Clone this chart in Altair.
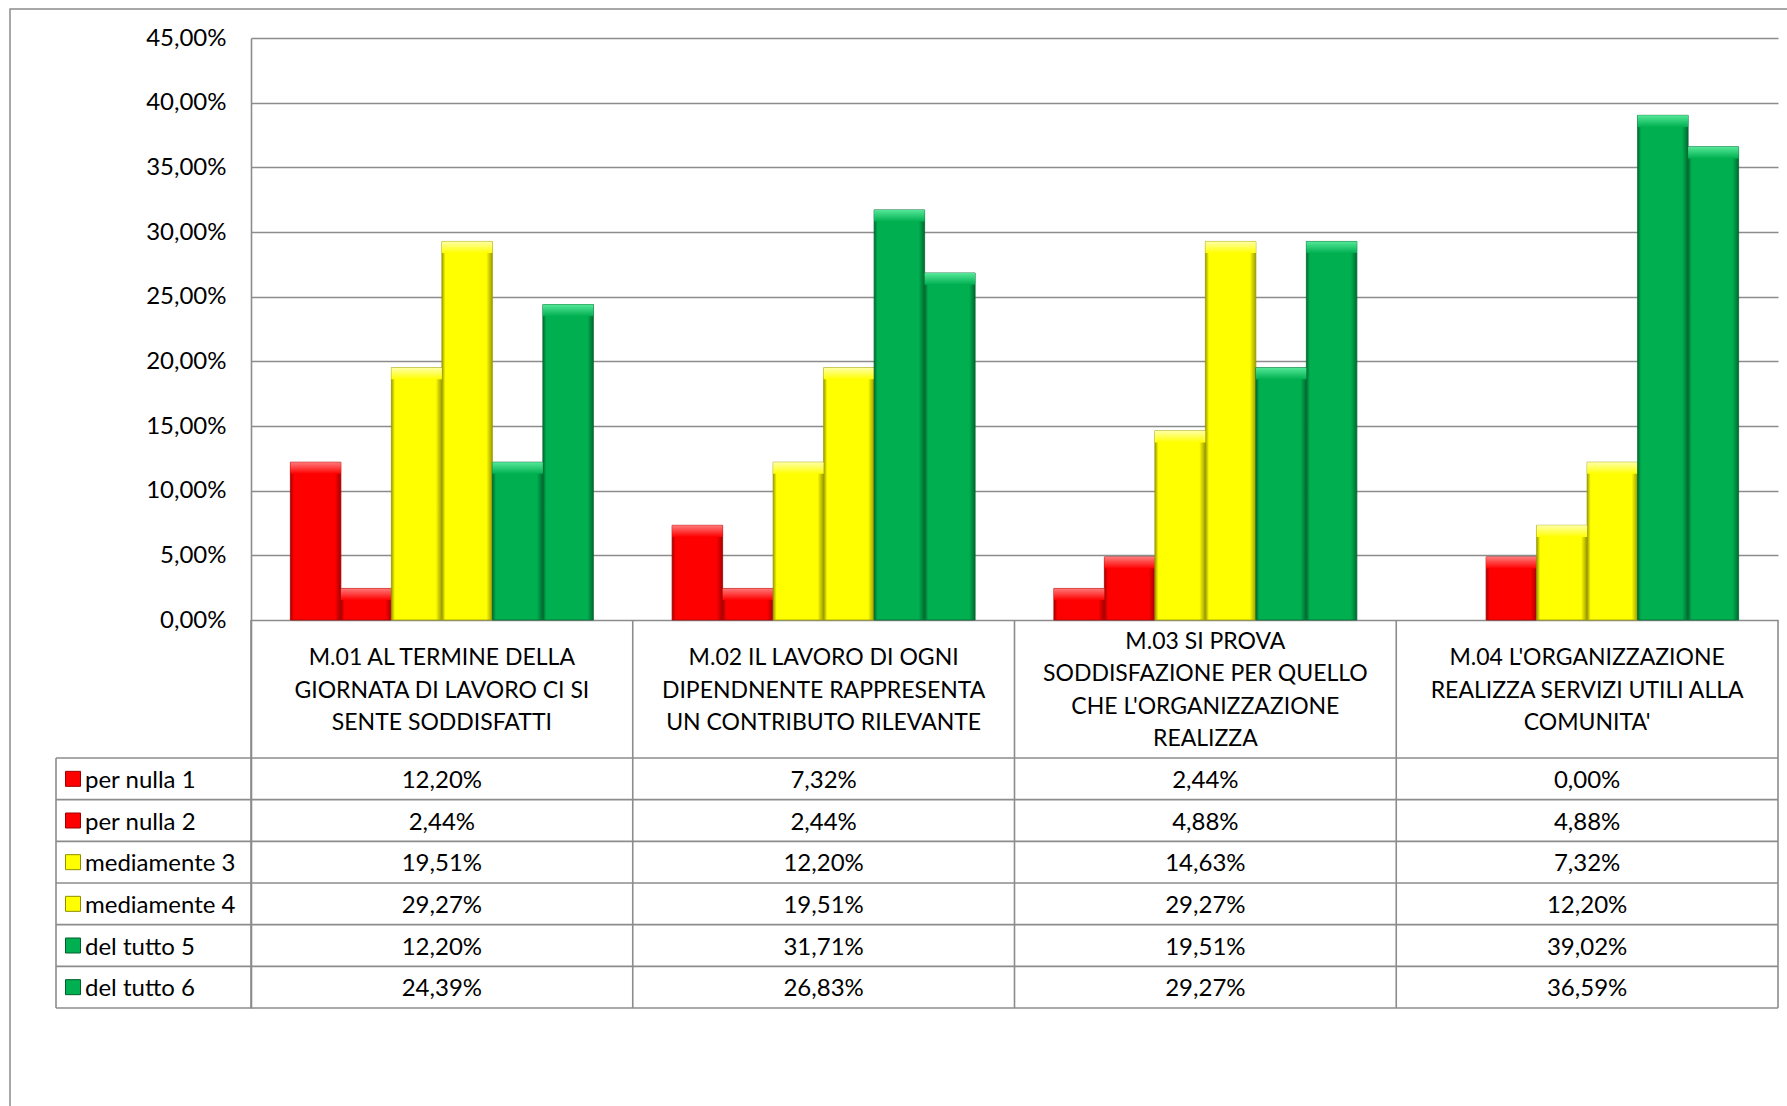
import altair as alt
import pandas as pd

# Questions (column headers of the data table); "\n" marks the line breaks
categories = [
    "M.01 AL TERMINE DELLA\nGIORNATA DI LAVORO CI SI\nSENTE SODDISFATTI",
    "M.02 IL LAVORO DI OGNI\nDIPENDNENTE RAPPRESENTA\nUN CONTRIBUTO RILEVANTE",
    "M.03 SI PROVA\nSODDISFAZIONE PER QUELLO\nCHE L'ORGANIZZAZIONE\nREALIZZA",
    "M.04 L'ORGANIZZAZIONE\nREALIZZA SERVIZI UTILI ALLA\nCOMUNITA'",
]

# Answer levels (rows of the data table)
series = ["per nulla 1", "per nulla 2", "mediamente 3", "mediamente 4", "del tutto 5", "del tutto 6"]

# Percentages per answer level, one value per question
per_nulla_1 = [12.20, 7.32, 2.44, 0.00]
per_nulla_2 = [2.44, 2.44, 4.88, 4.88]
mediamente_3 = [19.51, 12.20, 14.63, 7.32]
mediamente_4 = [29.27, 19.51, 29.27, 12.20]
del_tutto_5 = [12.20, 31.71, 19.51, 39.02]
del_tutto_6 = [24.39, 26.83, 29.27, 36.59]

y_ticks = [0, 5, 10, 15, 20, 25, 30, 35, 40, 45]

series_values = [per_nulla_1, per_nulla_2, mediamente_3, mediamente_4, del_tutto_5, del_tutto_6]
df = pd.DataFrame(
    [
        {"category": c, "series": s, "value": v}
        for s, vals in zip(series, series_values)
        for c, v in zip(categories, vals)
    ]
)
cat_df = pd.DataFrame({"category": categories})
ser_df = pd.DataFrame({"series": series})
one_df = pd.DataFrame({"k": [0]})

# Colour families: (series in the family, base, dark edge, light bevel)
families = [
    (series[0:2], "#FF0000", "#A80000", "#FF7A7A"),
    (series[2:4], "#FFFF00", "#9C9C00", "#FFFFA8"),
    (series[4:6], "#00B050", "#006A30", "#55E899"),
]
fill_colors = ["#FF0000", "#FF0000", "#FFFF00", "#FFFF00", "#00B050", "#00B050"]
edge_colors = ["#9E0000", "#9E0000", "#8F8F00", "#8F8F00", "#005E2A", "#005E2A"]
LINE = "#8C8C8C"

# Layout (pixels)
PLOT_W = 1527
PLOT_H = 970
Y_MIN, Y_MAX = -30.0, 45.0
PX_PER_UNIT = PLOT_H / (Y_MAX - Y_MIN)
ZERO_PX = (Y_MAX - 0) * PX_PER_UNIT
HEADER_H = 138
TABLE_TOP = ZERO_PX + HEADER_H
LABEL_COL = 195
FONT_SIZE = 24
HEADER_FONT = 23
HEADER_LINE_H = 32.5
BEVEL_UNITS = 0.9

pct_expr = "replace(format({v}, '.2f'), '.', ',') + '%'"

x_scale = alt.Scale(domain=categories, paddingInner=0, paddingOuter=0)
x_enc = alt.X("category:N", sort=categories, axis=None, scale=x_scale)
xoff_enc = alt.XOffset(
    "series:N", sort=series,
    scale=alt.Scale(domain=series, paddingInner=0, paddingOuter=0.78),
)
y_scale = alt.Scale(domain=[Y_MIN, Y_MAX], nice=False, zero=False)
table_y = alt.Scale(domain=series, range=[TABLE_TOP, PLOT_H], paddingInner=0, paddingOuter=0)

bar_data = alt.Chart(df).transform_filter("datum.value > 0")

# faint drop shadow to the right of each bar
shadow = bar_data.mark_bar(color="#000000", opacity=0.08, xOffset=4).encode(
    x=x_enc, xOffset=xoff_enc,
    y=alt.Y("value:Q", scale=y_scale, axis=None),
    y2=alt.datum(0),
)

# value axis with gridlines (carried by an invisible bar layer)
axis_layer = bar_data.mark_bar(opacity=0).encode(
    x=x_enc,
    xOffset=xoff_enc,
    y=alt.Y(
        "value:Q",
        scale=y_scale,
        axis=alt.Axis(
            values=y_ticks, title=None, ticks=False, grid=True,
            gridColor=LINE, gridWidth=1.6, domainColor=LINE, domainWidth=1.6,
            labelFontSize=FONT_SIZE, labelColor="#000000", labelPadding=25,
            labelExpr=pct_expr.format(v="datum.value"),
        ),
    ),
    y2=alt.datum(0),
)

bar_layers = []
for members, base, dark, light in families:
    fam = bar_data.transform_filter(alt.FieldOneOfPredicate(field="series", oneOf=members))
    body = fam.mark_bar(
        stroke=dark, strokeWidth=0.8,
        color=alt.Gradient(
            gradient="linear", x1=0, x2=1, y1=0, y2=0,
            stops=[
                alt.GradientStop(color=dark, offset=0),
                alt.GradientStop(color=base, offset=0.07),
                alt.GradientStop(color=base, offset=0.88),
                alt.GradientStop(color=dark, offset=1),
            ],
        ),
    ).encode(
        x=x_enc, xOffset=xoff_enc,
        y=alt.Y("value:Q", scale=y_scale, axis=None),
        y2=alt.datum(0),
    )
    top = fam.transform_calculate(bevel_low=f"datum.value - {BEVEL_UNITS}").mark_bar(
        color=alt.Gradient(
            gradient="linear", x1=0, x2=0, y1=0, y2=1,
            stops=[
                alt.GradientStop(color=light, offset=0),
                alt.GradientStop(color=base, offset=1),
            ],
        ),
    ).encode(
        x=x_enc, xOffset=xoff_enc,
        y=alt.Y("value:Q", scale=y_scale, axis=None),
        y2="bevel_low:Q",
    )
    bar_layers += [body, top]

# data table: values
cell_text = alt.Chart(df).transform_calculate(
    label=pct_expr.format(v="datum.value")
).mark_text(fontSize=FONT_SIZE, color="#000000", dy=2).encode(
    x=x_enc,
    y=alt.Y("series:N", scale=table_y, axis=None),
    text="label:N",
)

# data table: header texts, centred vertically in the header row
header_layers = []
for n_lines in sorted({c.count("\n") + 1 for c in categories}):
    header_layers.append(
        alt.Chart(pd.DataFrame({"category": [c for c in categories if c.count("\n") + 1 == n_lines]}))
        .mark_text(
            fontSize=HEADER_FONT, color="#000000", lineBreak="\n",
            lineHeight=HEADER_LINE_H, baseline="middle",
            dy=-(n_lines - 1) * HEADER_LINE_H / 2 + 1.5,
        )
        .encode(x=x_enc, y=alt.value(ZERO_PX + HEADER_H / 2), text="category:N")
    )

# data table: horizontal row lines
row_lines = alt.Chart(ser_df).mark_rule(color=LINE, strokeWidth=1.6).encode(
    y=alt.Y("series:N", scale=table_y, axis=None, bandPosition=0),
    x=alt.value(-LABEL_COL),
    x2=alt.value(PLOT_W),
)
bottom_line = alt.Chart(one_df).mark_rule(color=LINE, strokeWidth=1.6).encode(
    y=alt.value(PLOT_H), x=alt.value(-LABEL_COL), x2=alt.value(PLOT_W)
)

# data table: vertical column lines
col_lines = alt.Chart(cat_df).mark_rule(color=LINE, strokeWidth=1.6).encode(
    x=alt.X("category:N", sort=categories, axis=None, scale=x_scale, bandPosition=0),
    y=alt.value(ZERO_PX),
    y2=alt.value(PLOT_H),
)
right_line = alt.Chart(one_df).mark_rule(color=LINE, strokeWidth=1.6).encode(
    x=alt.value(PLOT_W), y=alt.value(ZERO_PX), y2=alt.value(PLOT_H)
)
left_line = alt.Chart(one_df).mark_rule(color=LINE, strokeWidth=1.6).encode(
    x=alt.value(-LABEL_COL), y=alt.value(TABLE_TOP), y2=alt.value(PLOT_H)
)

# data table: legend keys and row names
keys = alt.Chart(ser_df).mark_point(shape="square", filled=True, size=225, opacity=1, strokeWidth=1).encode(
    x=alt.value(-178),
    y=alt.Y("series:N", scale=table_y, axis=None),
    color=alt.Color("series:N", scale=alt.Scale(domain=series, range=fill_colors), legend=None),
    stroke=alt.Stroke("series:N", scale=alt.Scale(domain=series, range=edge_colors), legend=None),
)
row_names = alt.Chart(ser_df).mark_text(align="left", fontSize=FONT_SIZE, color="#000000", dy=2).encode(
    x=alt.value(-166),
    y=alt.Y("series:N", scale=table_y, axis=None),
    text="series:N",
)

# outer frame of the chart object
frame = alt.Chart(one_df).mark_rect(fillOpacity=0, stroke=LINE, strokeWidth=1.5).encode(
    x=alt.value(-241), x2=alt.value(PLOT_W + 200),
    y=alt.value(-29), y2=alt.value(PLOT_H + 300),
)

chart = alt.layer(
    frame, axis_layer, shadow, *bar_layers,
    row_lines, bottom_line, col_lines, right_line, left_line,
    *header_layers, cell_text, keys, row_names,
).resolve_scale(
    y="independent", color="independent", stroke="independent"
).properties(
    width=PLOT_W,
    height=PLOT_H,
    autosize=alt.AutoSizeParams(type="none"),
    padding={"left": 251, "top": 38, "right": 9, "bottom": 98},
    background="#FFFFFF",
).configure(font="Lato").configure_view(stroke=None)

chart.save("out.html", embed_options={"renderer": "svg", "actions": False})
